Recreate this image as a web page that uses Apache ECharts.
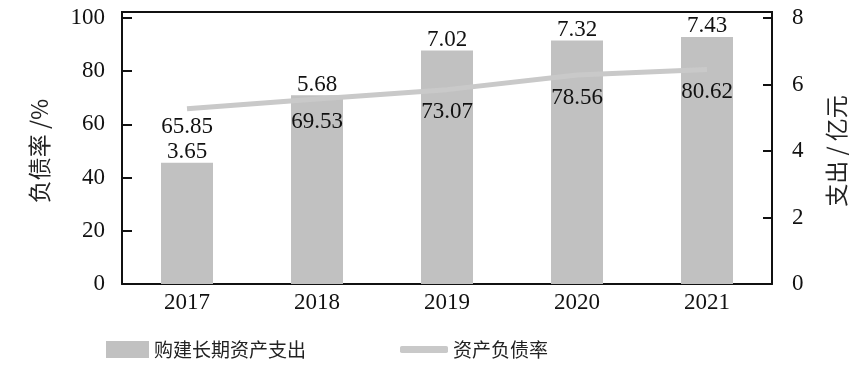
<!DOCTYPE html>
<html><head><meta charset="utf-8">
<script src="https://cdn.jsdelivr.net/npm/echarts@6/dist/echarts.min.js"></script>
<style>html,body{margin:0;padding:0;background:#fff}#c{width:865px;height:372px}</style>
</head><body><div id="c"></div>
<script>
var years = ['2017','2018','2019','2020','2021'];
var spending = [3.65, 5.68, 7.02, 7.32, 7.43];
var debtRatio = [65.85, 69.53, 73.07, 78.56, 80.62];
var leftTicks = [0, 20, 40, 60, 80, 100];
var rightTicks = [0, 2, 4, 6, 8];

var serif = '"Liberation Serif","Times New Roman",serif';
var cjk = '"Noto Sans CJK SC",sans-serif';
var chart = echarts.init(document.getElementById('c'));
var gridL = 122, gridR = 93, gridT = 18, gridB = 88;
var lineData = debtRatio.map(function (v, i) {
  return i === 0 ? {value: v, label: {distance: 7}} : v;
});
chart.setOption({
  animation: false,
  grid: {left: gridL, right: gridR, top: gridT, bottom: gridB},
  legend: [
    {data: ['购建长期资产支出'], left: 101, top: 335, itemWidth: 43, itemHeight: 17,
     icon: 'rect', textStyle: {fontFamily: cjk, fontSize: 19, color: '#222'}},
    {data: ['资产负债率'], left: 395, top: 335, itemWidth: 48, itemHeight: 7,
     icon: 'roundRect', textStyle: {fontFamily: cjk, fontSize: 19, color: '#222'}}
  ],
  xAxis: {
    type: 'category', data: years,
    axisLine: {lineStyle: {color: '#111', width: 2}},
    axisTick: {show: false},
    axisLabel: {fontFamily: serif, fontSize: 23, color: '#111', margin: 7}
  },
  yAxis: [
    {type: 'value', min: leftTicks[0], max: leftTicks[leftTicks.length-1], interval: 20,
     name: '负债率 /%', nameLocation: 'middle', nameRotate: 90, nameGap: 71,
     nameTextStyle: {fontFamily: cjk, fontSize: 23, color: '#222'},
     axisLine: {show: true, lineStyle: {color: '#111', width: 2}},
     axisTick: {show: true, inside: true, length: 10, lineStyle: {color: '#111', width: 2}},
     axisLabel: {fontFamily: serif, fontSize: 23, color: '#111', margin: 17},
     splitLine: {show: false}},
    {type: 'value', min: rightTicks[0], max: rightTicks[rightTicks.length-1], interval: 2,
     name: '支出 / 亿元', nameLocation: 'middle', nameRotate: 90, nameGap: 53,
     nameTextStyle: {fontFamily: cjk, fontSize: 23, color: '#222'},
     axisLine: {show: true, lineStyle: {color: '#111', width: 2}},
     axisTick: {show: true, inside: true, length: 9, lineStyle: {color: '#111', width: 2}},
     axisLabel: {fontFamily: serif, fontSize: 23, color: '#111', margin: 20},
     splitLine: {show: false}}
  ],
  graphic: [{type: 'line', shape: {x1: gridL - 1, y1: 12, x2: 865 - gridR + 1, y2: 12},
             style: {stroke: '#111', lineWidth: 2}, z: 10},
            {type: 'line', shape: {x1: gridL, y1: 12, x2: gridL, y2: gridT},
             style: {stroke: '#111', lineWidth: 2}, z: 10},
            {type: 'line', shape: {x1: 865 - gridR, y1: 12, x2: 865 - gridR, y2: gridT},
             style: {stroke: '#111', lineWidth: 2}, z: 10}],
  series: [
    {name: '购建长期资产支出', type: 'bar', yAxisIndex: 1, data: spending,
     barWidth: 52, itemStyle: {color: '#c1c1c1'},
     label: {show: true, position: 'top', distance: -1, fontFamily: serif, fontSize: 23, color: '#111'}},
    {name: '资产负债率', type: 'line', yAxisIndex: 0, data: lineData,
     symbol: 'circle', symbolSize: 0, showSymbol: true,
     lineStyle: {color: '#c9c9c9', width: 5}, itemStyle: {color: '#c9c9c9'},
     labelLayout: {hideOverlap: false},
     label: {show: true, position: 'bottom', distance: 11, fontFamily: serif, fontSize: 23, color: '#111'}}
  ]
});
</script></body></html>
